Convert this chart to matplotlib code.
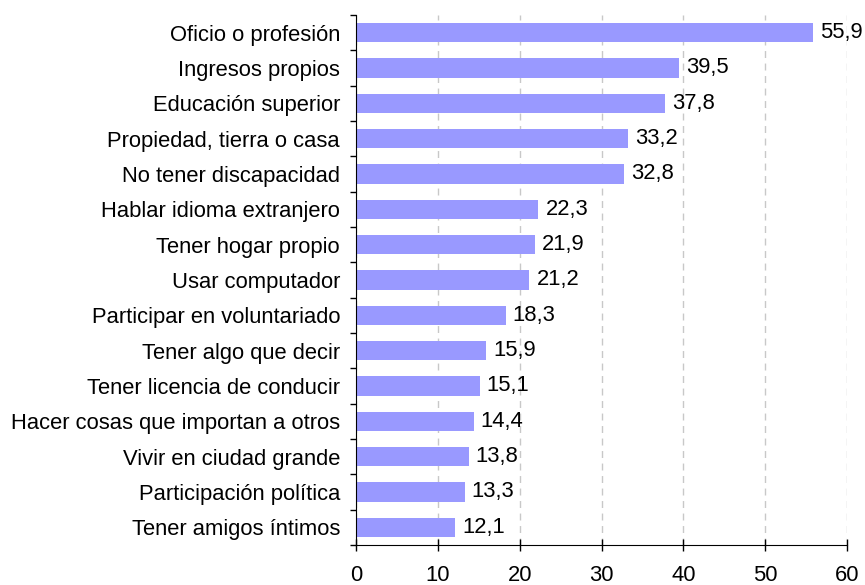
import matplotlib.pyplot as plt
import numpy as np

plt.rcParams['font.family'] = ['Liberation Sans', 'DejaVu Sans']

categorias = [
    'Oficio o profesión',
    'Ingresos propios',
    'Educación superior',
    'Propiedad, tierra o casa',
    'No tener discapacidad',
    'Hablar idioma extranjero',
    'Tener hogar propio',
    'Usar computador',
    'Participar en voluntariado',
    'Tener algo que decir',
    'Tener licencia de conducir',
    'Hacer cosas que importan a otros',
    'Vivir en ciudad grande',
    'Participación política',
    'Tener amigos íntimos',
]
valores = [55.9, 39.5, 37.8, 33.2, 32.8, 22.3, 21.9, 21.2, 18.3, 15.9, 15.1, 14.4, 13.8, 13.3, 12.1]
xticks = [0, 10, 20, 30, 40, 50, 60]

fs = 15.8

fig = plt.figure(figsize=(8.65, 5.85), dpi=100)
ax = fig.add_axes([356 / 865, 40 / 585, (847 - 356) / 865, (545 - 15) / 585])

n = len(categorias)
y = np.arange(n)[::-1]
barras = ax.barh(y, valores, height=0.54, color='#9999FF', zorder=2)
ax.bar_label(barras, labels=[f'{v:.1f}'.replace('.', ',') for v in valores],
             padding=5, fontsize=fs, zorder=3)

ax.set_xlim(0, 60)
ax.set_ylim(-0.5, n - 0.5)
ax.set_xticks(xticks)
ax.set_xticklabels([str(t) for t in xticks], fontsize=fs)
ax.tick_params(axis='x', pad=10, length=8.6, direction='inout', width=1)

# labels centred on the bars, tick marks between categories
ax.set_yticks(y)
ax.set_yticklabels(categorias, fontsize=fs)
ax.tick_params(axis='y', which='major', length=0, pad=11.5)
ax.set_yticks(np.arange(n + 1) - 0.5, minor=True)
ax.tick_params(axis='y', which='minor', length=4, direction='out', width=1)

ax.grid(axis='x', linestyle=(0, (5, 4)), color='#c8c8c8', linewidth=1, zorder=0)
ax.spines['top'].set_visible(False)
ax.spines['right'].set_visible(False)

fig.savefig('out.png', dpi=100)
